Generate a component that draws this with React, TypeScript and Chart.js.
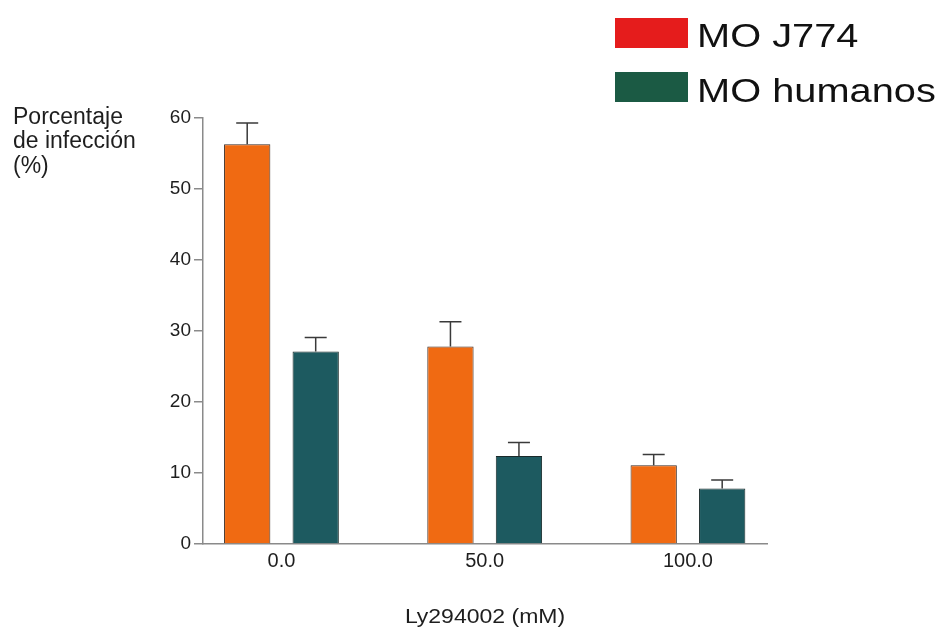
import React, { useEffect, useRef } from "react";
import { Chart, registerables } from "chart.js";

Chart.register(...registerables);

const categories = ["0.0", "50.0", "100.0"];
const seriesNames = ["MO J774", "MO humanos"];
const j774Values = [56.3, 27.8, 11.1];
const j774Errors = [3.0, 3.5, 1.5];
const humanValues = [27.1, 12.4, 7.8];
const humanErrors = [2.0, 1.9, 1.2];
const barColors = ["#F06A12", "#1D5A60"];
const legendColors = ["#E51C1C", "#1B5A44"];
const yTicks = [0, 10, 20, 30, 40, 50, 60];
const yTitleLines = ["Porcentaje", "de infección", "(%)"];
const xTitle = "Ly294002 (mM)";

const FONT = "'Liberation Sans', Arial, Helvetica, sans-serif";

export default function App() {
  const ref = useRef<HTMLCanvasElement | null>(null);

  useEffect(() => {
    document.body.style.margin = "0";
    const canvas = ref.current;
    if (!canvas) return;
    const errors = [j774Errors, humanErrors];

    const errorBars = {
      id: "errorBars",
      afterDatasetsDraw(chart: any) {
        const ctx = chart.ctx;
        const yScale = chart.scales.y;
        ctx.save();
        ctx.strokeStyle = "#3a3a3a";
        ctx.lineWidth = 1.5;
        chart.data.datasets.forEach((ds: any, di: number) => {
          const meta = chart.getDatasetMeta(di);
          meta.data.forEach((bar: any, i: number) => {
            const v = ds.data[i].y;
            const yTop = yScale.getPixelForValue(v);
            const yErr = yScale.getPixelForValue(v + errors[di][i]);
            ctx.beginPath();
            ctx.moveTo(bar.x, yTop);
            ctx.lineTo(bar.x, yErr);
            ctx.moveTo(bar.x - 11, yErr);
            ctx.lineTo(bar.x + 11, yErr);
            ctx.stroke();
          });
        });
        ctx.restore();
      },
    };

    const decorations = {
      id: "decorations",
      afterDraw(chart: any) {
        const ctx = chart.ctx;
        ctx.save();
        ctx.fillStyle = "#1e1e1e";
        ctx.textAlign = "left";
        ctx.textBaseline = "alphabetic";
        // y title
        ctx.font = `23px ${FONT}`;
        const baselines = [124, 148, 173];
        yTitleLines.forEach((t, i) => ctx.fillText(t, 13, baselines[i]));
        // x title
        ctx.save();
        ctx.font = `20px ${FONT}`;
        ctx.textAlign = "center";
        ctx.translate(485, 623);
        ctx.scale(1.15, 1);
        ctx.fillText(xTitle, 0, 0);
        ctx.restore();
        // legend
        const boxTops = [18, 72];
        const textBase = [47, 102];
        seriesNames.forEach((name, i) => {
          ctx.fillStyle = legendColors[i];
          ctx.fillRect(615, boxTops[i], 73, 30);
          ctx.fillStyle = "#111";
          ctx.save();
          ctx.font = `34px ${FONT}`;
          ctx.translate(697, textBase[i]);
          ctx.scale(1.17, 1);
          ctx.fillText(name, 0, 0);
          ctx.restore();
        });
        ctx.restore();
      },
    };

    const chart = new Chart(canvas, {
      type: "bar",
      data: {
        datasets: [
          {
            label: seriesNames[0],
            data: j774Values.map((y, i) => ({ x: i, y })),
            backgroundColor: barColors[0],
            borderColor: "#3a2a22",
            borderWidth: 1,
            categoryPercentage: 0.674,
            barPercentage: 0.676,
          },
          {
            label: seriesNames[1],
            data: humanValues.map((y, i) => ({ x: i, y })),
            backgroundColor: barColors[1],
            borderColor: "#1a2a2a",
            borderWidth: 1,
            categoryPercentage: 0.674,
            barPercentage: 0.676,
          },
        ],
      },
      options: {
        responsive: false,
        animation: false,
        devicePixelRatio: 1,
        layout: { padding: { top: 118, right: 177, left: 0, bottom: 0 } },
        plugins: {
          legend: { display: false },
          tooltip: { enabled: false },
        },
        scales: {
          x: {
            type: "linear",
            min: -0.386,
            max: 2.389,
            offset: false,
            grid: { display: true, drawOnChartArea: false, drawTicks: false, offset: false },
            border: { display: true, color: "#8a8a8a", width: 1.5 },
            afterBuildTicks: (axis: any) => {
              axis.ticks = categories.map((_, i) => ({ value: i }));
            },
            afterFit: (axis: any) => {
              axis.height = 635 - 544;
            },
            ticks: {
              autoSkip: false,
              maxRotation: 0,
              padding: 5,
              color: "#1e1e1e",
              font: { family: FONT, size: 20 },
              callback: (v: any) => categories[Math.round(Number(v))] ?? "",
            },
          },
          y: {
            min: 0,
            max: 60,
            afterBuildTicks: (axis: any) => {
              axis.ticks = yTicks.map((v) => ({ value: v }));
            },
            afterFit: (axis: any) => {
              axis.width = 203;
            },
            grid: { display: true, drawOnChartArea: false, drawTicks: true, tickLength: 9, color: "#8a8a8a", lineWidth: 1.5 },
            border: { display: true, color: "#8a8a8a", width: 1.5 },
            ticks: {
              padding: 3,
              color: "#1e1e1e",
              font: { family: FONT, size: 19 },
            },
          },
        },
      },
      plugins: [errorBars, decorations],
    } as any);

    return () => chart.destroy();
  }, []);

  return (
    <div style={{ width: 944, height: 635, background: "#fff" }}>
      <canvas ref={ref} width={944} height={635} style={{ display: "block" }} />
    </div>
  );
}
